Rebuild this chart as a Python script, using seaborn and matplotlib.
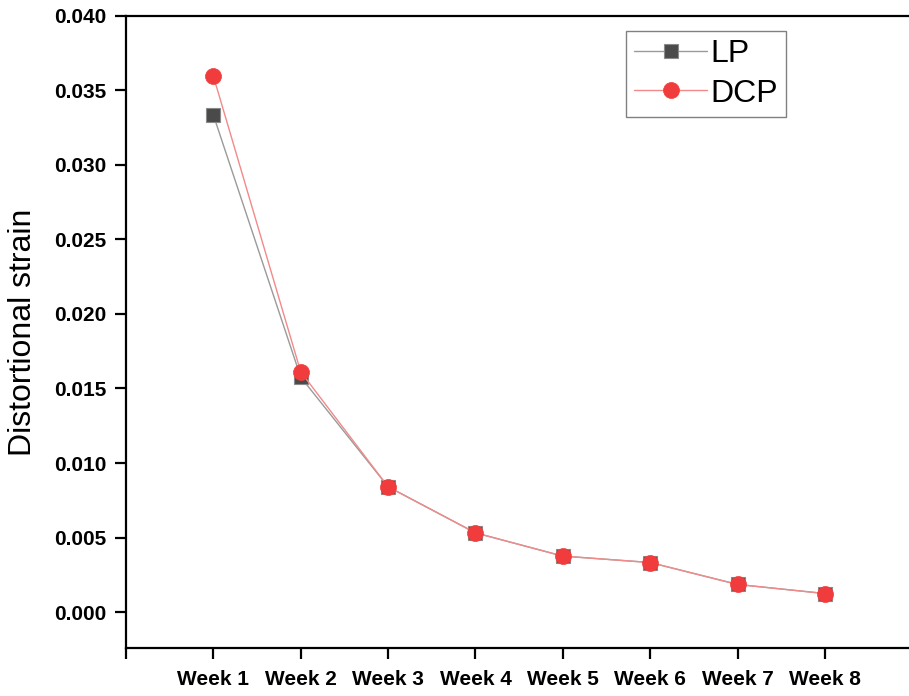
import numpy as np
import pandas as pd
import seaborn as sns
import matplotlib.pyplot as plt

# === data ===
weeks = ["Week 1", "Week 2", "Week 3", "Week 4", "Week 5", "Week 6", "Week 7", "Week 8"]
lp = [0.03334, 0.01576, 0.00841, 0.00532, 0.00376, 0.00333, 0.00186, 0.00125]
dcp = [0.03595, 0.01612, 0.00841, 0.00532, 0.00376, 0.00333, 0.00186, 0.00125]

pos = np.arange(1, len(weeks) + 1)
df = pd.DataFrame({"pos": pos, "LP": lp, "DCP": dcp})

sns.set_style("ticks")
plt.rcParams['font.family'] = ['Liberation Sans', 'DejaVu Sans']
plt.rcParams.update({"text.color": "black", "axes.labelcolor": "black",
                     "xtick.color": "black", "ytick.color": "black"})

fig = plt.figure(figsize=(9.09, 6.96), dpi=100)
ax = fig.add_axes([0.1386, 0.069, 0.865, 0.9085])

sns.lineplot(data=df, x="pos", y="LP", ax=ax, color="#9a9a9a", lw=1.0,
             marker="s", markersize=10, markerfacecolor="#4a4a4a",
             markeredgecolor="#8a8a8a", markeredgewidth=0.8, label="LP")
sns.lineplot(data=df, x="pos", y="DCP", ax=ax, color="#f28a8a", lw=1.0,
             marker="o", markersize=11.5, markerfacecolor="#f03c3c",
             markeredgecolor="#f03c3c", markeredgewidth=0.5, label="DCP")

ax.set_xlim(0, 9)
ax.set_ylim(-0.0024, 0.040)
ax.set_xticks(range(0, 9))
ax.set_xticklabels([""] + weeks)
ax.set_yticks(np.arange(0, 0.0401, 0.005))
ax.set_yticklabels([f"{v:.3f}" for v in np.arange(0, 0.0401, 0.005)])

for lab in ax.get_xticklabels() + ax.get_yticklabels():
    lab.set_fontweight("bold")
    lab.set_fontsize(15)

ax.tick_params(axis="both", direction="out", length=8, width=1.6, color="black",
               labelcolor="black")
ax.tick_params(axis="y", pad=6)
ax.tick_params(axis="x", pad=8)

for side in ["left", "bottom", "top"]:
    ax.spines[side].set_visible(True)
    ax.spines[side].set_linewidth(1.6)
    ax.spines[side].set_color("black")
ax.spines["right"].set_visible(False)

ax.set_xlabel("")
ax.set_ylabel("Distortional strain", fontsize=23, color="black")
ax.yaxis.set_label_coords(-0.112, 0.5)

leg = ax.legend(loc="upper left", bbox_to_anchor=(626 / 909, 1 - 31 / 696),
                bbox_transform=fig.transFigure, fontsize=23, frameon=True,
                fancybox=False, edgecolor="#808080", framealpha=1,
                handlelength=2.3, handletextpad=0.1, borderpad=0.25,
                labelspacing=0.3, borderaxespad=0)
leg.get_frame().set_linewidth(1.0)

fig.savefig("out.png", dpi=100)
